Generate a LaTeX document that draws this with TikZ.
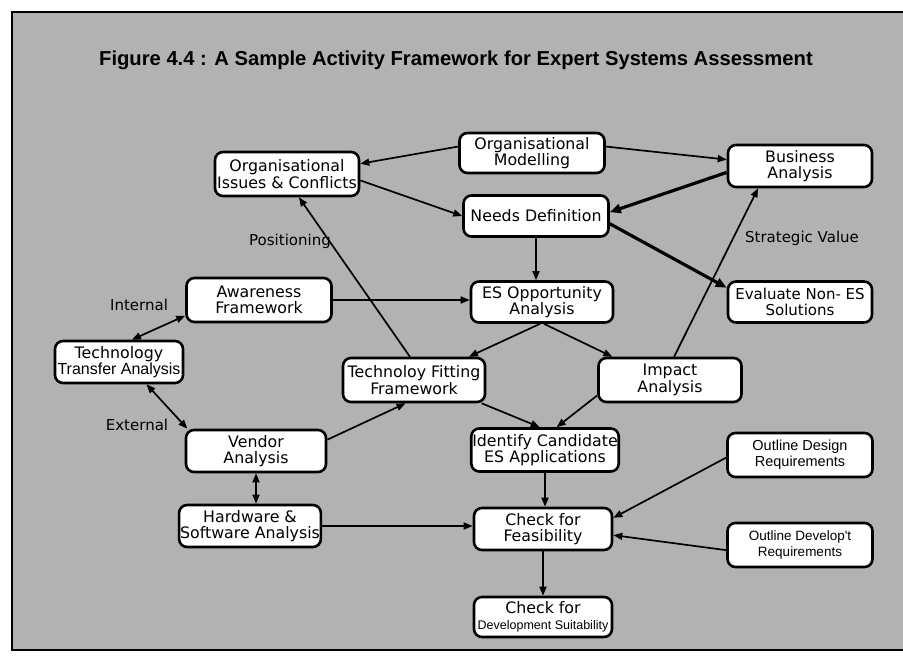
\documentclass[tikz,border=0pt]{standalone}
\usepackage{fontspec}
\setmainfont{DejaVu Sans}
\newfontfamily\libsans{Liberation Sans}
\usetikzlibrary{arrows.meta,calc}
\begin{document}
\begin{tikzpicture}[x=1pt,y=-1pt,
  box/.style={draw,line width=2.6pt,rounded corners=8pt,fill=white,align=center,
    inner sep=1pt,minimum width=142pt,minimum height=41pt,
    font=\fontsize{15.8}{16.5}\selectfont},
  arr/.style={line width=1.7pt,-{Triangle[length=9pt,width=7pt]}},
  darr/.style={line width=1.7pt,{Triangle[length=9pt,width=7pt]}-{Triangle[length=9pt,width=7pt]}},
  thick arr/.style={line width=3.2pt,-{Triangle[length=11pt,width=9pt]}},
  lbl/.style={font=\fontsize{15}{16}\selectfont,inner sep=0pt}]
\useasboundingbox (0,0) rectangle (903,658);
% background and frame
\fill[white] (0,0) rectangle (903,658);
\fill[black!30] (12,12) rectangle (903,650);
\draw[line width=2.4pt] (903,12) -- (12,12) -- (12,650) -- (903,650);
% title
\node[font=\libsans\bfseries\fontsize{20.2}{22}\selectfont,inner sep=0pt] (title) at (456,60)
  {Figure 4.4 : A Sample Activity Framework for Expert Systems Assessment};
% nodes
\node[box,minimum width=145pt,minimum height=40pt] (om) at (532,153) {Organisational\\Modelling};
\node[box,minimum width=144pt,minimum height=44pt] (oi) at (287,174) {Organisational\\Issues \& Conflicts};
\node[box,minimum width=145pt] (nd) at (536,216) {Needs Definition};
\node[box,minimum width=144pt,minimum height=42pt] (ba) at (800,166) {Business\\Analysis};
\node[box,minimum width=144pt,font=\fontsize{15}{16.5}\selectfont] (ev) at (800,302) {Evaluate Non- ES\\Solutions};
\node[box] (eso) at (542,302) {ES Opportunity\\Analysis};
\node[box,minimum width=145pt,minimum height=44pt] (aw) at (259,300) {Awareness\\Framework};
\node[box,minimum width=128pt,minimum height=42pt] (tt) at (119,362) {Technology\\{\libsans\fontsize{16}{16.5}\selectfont Transfer Analysis}};
\node[box,minimum height=44pt] (tf) at (414,380) {Technoloy Fitting\\Framework};
\node[box,minimum width=143pt,minimum height=44pt] (ia) at (670,380) {Impact\\Analysis};
\node[box,minimum width=140pt,minimum height=42pt] (va) at (256,451) {Vendor\\Analysis};
\node[box,minimum width=137pt,minimum height=43pt] (ic) at (545,450) {Identify Candidate\\ES Applications};
\node[box,minimum width=145pt,minimum height=44pt,font=\libsans\fontsize{14.5}{16}\selectfont] (od) at (800,455) {Outline Design\\Requirements};
\node[box,minimum width=137pt,minimum height=42pt] (hw) at (250,526) {Hardware \&\\Software Analysis};
\node[box,minimum width=138pt,minimum height=42pt] (cf) at (543,529) {Check for\\Feasibility};
\node[box,minimum width=145pt,minimum height=44pt,font=\libsans\fontsize{13.5}{16}\selectfont] (ol) at (800,545) {Outline Develop't\\Requirements};
\node[box,minimum width=138pt,minimum height=40pt] (cd) at (543,617) {Check for\\{\libsans\fontsize{12.5}{14}\selectfont Development Suitability}};
% connectors
\draw[arr] (om.175) -- (oi.8);
\draw[arr] (om.5) -- (ba.175);
\draw[arr] (oi.-5) -- (nd.west);
\draw[thick arr] (ba.185) -- (nd.3);
\draw[thick arr] (nd.-6) -- (ev.169);
\draw[arr] (nd.south) -- (nd.south |- eso.north);
\draw[arr] (aw.east) -- (aw.east -| eso.west);
\draw[arr] (eso.265) -- (tf.23);
\draw[arr] (eso.275) -- (ia.158);
\draw[arr] (ia.80) -- (ba.208);
\draw[arr] (tf.100) -- (oi.-63);
\draw[arr] (tf.-19) -- (ic.103);
\draw[arr] (ia.192) -- (ic.63);
\draw[darr] (tt.60) -- (aw.192);
\draw[darr] (tt.-39) -- (va.162);
\draw[arr] (va.9) -- (tf.-110);
\draw[darr] (va.south) -- (va.south |- hw.north);
\draw[arr] (hw.east) -- (hw.east -| cf.west);
\draw[arr] (ic.south) -- (ic.south |- cf.north);
\draw[arr] (od.182) -- (cf.9);
\draw[arr] (ol.184) -- (cf.-5);
\draw[arr] (cf.south) -- (cf.south |- cd.north);
% labels
\node[lbl] (lpos) at (290,241) {Positioning};
\node[lbl] (lsv) at (802,238) {Strategic Value};
\node[lbl] (lint) at (139,305) {Internal};
\node[lbl] (lext) at (137,425) {External};
\end{tikzpicture}
\end{document}
